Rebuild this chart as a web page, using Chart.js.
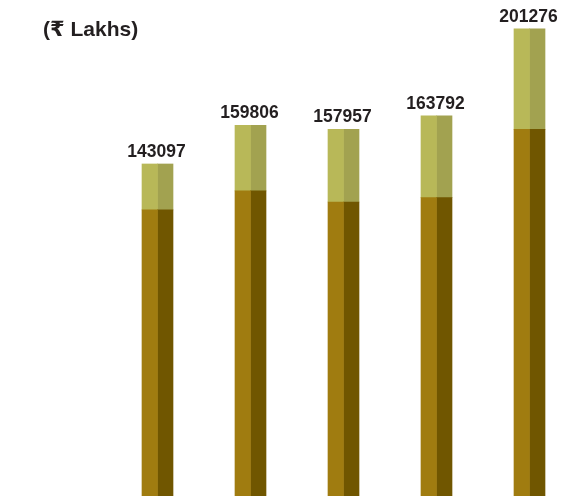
<!DOCTYPE html>
<html>
<head>
<meta charset="utf-8">
<script src="https://cdn.jsdelivr.net/npm/chart.js@4.4.1/dist/chart.umd.min.js"></script>
<style>
  html, body { margin: 0; padding: 0; background: #fff; }
  #wrap { position: relative; width: 571px; height: 496px; }
</style>
</head>
<body>
<div id="wrap"><canvas id="grafico"></canvas></div>
<script>
const categorias = ["A", "B", "C", "D", "E"];
const totais = [143097, 159806, 157957, 163792, 201276];
const parteBaixo = [123300, 131500, 126700, 128600, 158000];
const parteCima = [19800, 28300, 31300, 35200, 43300];
const titulo = "(\u20B9 Lakhs)";

const rotulos = {
  id: "rotulos",
  afterDatasetsDraw(chart) {
    const ctx = chart.ctx;
    const meta = chart.getDatasetMeta(2);
    ctx.save();
    ctx.fillStyle = "#231f20";
    ctx.textAlign = "center";
    ctx.textBaseline = "alphabetic";
    ctx.font = "bold 17.5px 'Liberation Sans', Arial, sans-serif";
    totais.forEach((t, i) => {
      const x = chart.scales.x.getPixelForValue(i);
      const y = meta.data[i].y;
      ctx.fillText(String(t), x - 1, y - 7);
    });
    ctx.textAlign = "left";
    ctx.font = "bold 21px 'Liberation Sans', Arial, 'DejaVu Sans', sans-serif";
    ctx.fillText(titulo, 43, 36);
    ctx.restore();
  }
};

new Chart(document.getElementById("grafico"), {
  type: "bar",
  data: {
    labels: categorias,
    datasets: [
      { data: parteBaixo, backgroundColor: "#a07c10", stack: "esq", clip: false },
      { data: parteBaixo, backgroundColor: "#705600", stack: "dir", clip: false },
      { data: parteCima, backgroundColor: "#b8b858", stack: "esq", clip: false },
      { data: parteCima, backgroundColor: "#a2a250", stack: "dir", clip: false }
    ]
  },
  options: {
    responsive: true,
    maintainAspectRatio: false,
    animation: false,
    layout: { padding: { left: 157.5, right: 41.5, top: 0, bottom: 0 } },
    datasets: { bar: { barThickness: 15.5, borderWidth: 0 } },
    scales: {
      x: { display: false, stacked: true, offset: false },
      y: { display: false, stacked: true, min: 0, max: 213774 }
    },
    plugins: { legend: { display: false }, tooltip: { enabled: true } }
  },
  plugins: [rotulos]
});
</script>
</body>
</html>
